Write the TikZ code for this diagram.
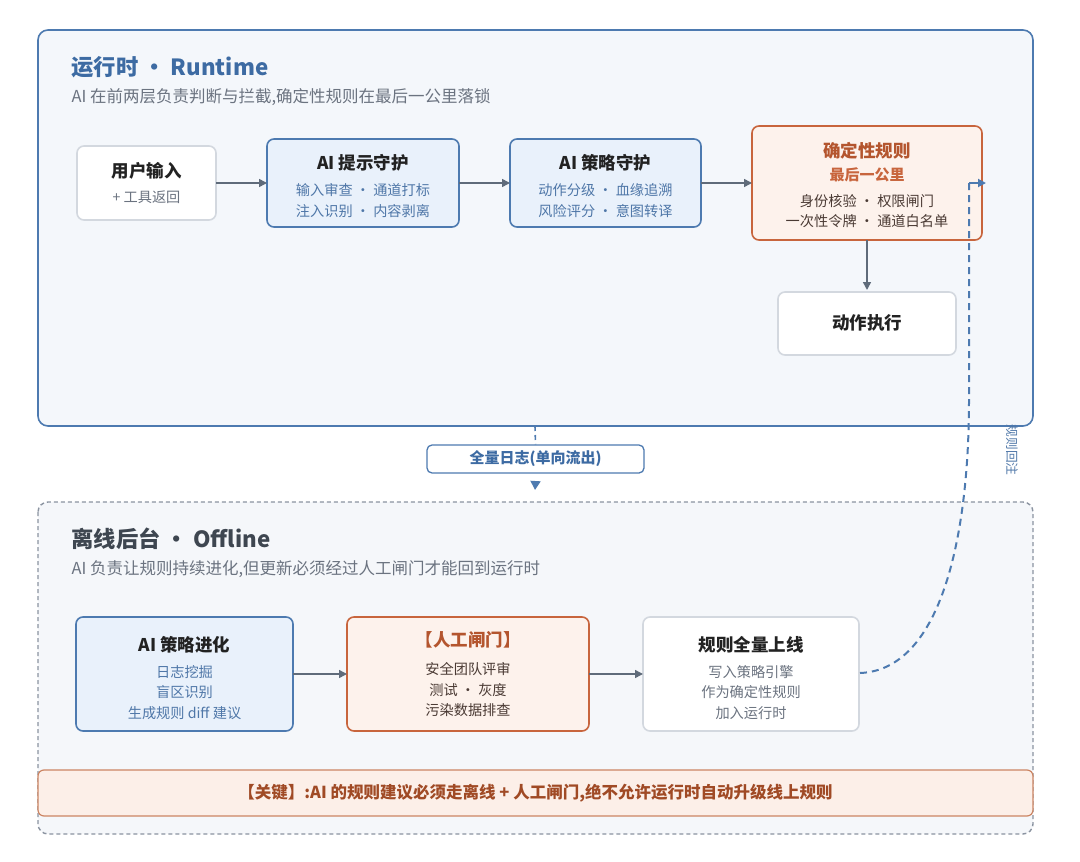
\documentclass[tikz,border=0pt]{standalone}
\usepackage{fontspec}
\setmainfont{Noto Sans CJK SC}
\usetikzlibrary{arrows.meta}
\definecolor{rtbg}{HTML}{F4F7FB}
\definecolor{offbg}{HTML}{F5F7FA}
\definecolor{bluebd}{HTML}{4D7AB0}
\definecolor{bluetitle}{HTML}{3D6BA3}
\definecolor{bluetxt}{HTML}{4F77A8}
\definecolor{bluefill}{HTML}{E9F1FB}
\definecolor{greybd}{HTML}{D3D8DF}
\definecolor{greytxt}{HTML}{6B7380}
\definecolor{darktxt}{HTML}{222222}
\definecolor{orbd}{HTML}{C8653D}
\definecolor{ortitle}{HTML}{B4552E}
\definecolor{orfill}{HTML}{FDF2EC}
\definecolor{ortxt}{HTML}{4A3A34}
\definecolor{arrowc}{HTML}{5F6B7A}
\definecolor{dashbd}{HTML}{8A93A0}
\definecolor{offtitle}{HTML}{3E4650}
\definecolor{keyfill}{HTML}{FCEFE8}
\definecolor{keybd}{HTML}{CC8563}
\definecolor{keytxt}{HTML}{A04A25}
\tikzset{
  box/.style={rounded corners=7pt, line width=1.6pt, inner sep=0pt},
  whitebox/.style={box, fill=white, draw=greybd},
  bluebox/.style={box, fill=bluefill, draw=bluebd},
  orbox/.style={box, fill=orfill, draw=orbd},
  ttl/.style={font=\fontsize{17.5}{19}\selectfont\bfseries, text=darktxt},
  bl/.style={font=\fontsize{14.2}{16}\selectfont, text=bluetxt},
  gl/.style={font=\fontsize{14.2}{16}\selectfont, text=greytxt},
  ol/.style={font=\fontsize{14.2}{16}\selectfont, text=ortxt},
  flow/.style={-{Triangle[length=8pt,width=8pt]}, line width=1.5pt, draw=arrowc},
}
\begin{document}
\begin{tikzpicture}[x=1pt,y=-1pt]
\useasboundingbox (0,0) rectangle (1080,862);
% Runtime panel
\draw[rounded corners=10pt, fill=rtbg, draw=bluebd, line width=1.6pt] (38,30) rectangle (1033,426);
\node[anchor=west, font=\fontsize{22.3}{24}\selectfont\bfseries, text=bluetitle] (rtt) at (68,67) {运行时 · Runtime};
\node[anchor=west, font=\fontsize{16.5}{18}\selectfont, text=greytxt] (rts) at (68,97) {AI 在前两层负责判断与拦截,确定性规则在最后一公里落锁};
% Offline panel
\draw[rounded corners=10pt, fill=offbg, draw=dashbd, line width=1.4pt, dash pattern=on 4pt off 3pt] (38,502) rectangle (1033,834);
\node[anchor=west, font=\fontsize{22.3}{24}\selectfont\bfseries, text=offtitle] (oft) at (68,539) {离线后台 · Offline};
\node[anchor=west, font=\fontsize{16.5}{18}\selectfont, text=greytxt] (ofs) at (68,569) {AI 负责让规则持续进化,但更新必须经过人工闸门才能回到运行时};

% Runtime nodes
\draw[whitebox] (77,146) rectangle (216,220);
\node[ttl] (ut) at (146.5,171) {用户输入};
\node[gl] (ub) at (146.5,197) {+ 工具返回};

\draw[bluebox] (267,139) rectangle (459,227);
\node[ttl] (pt) at (363,163) {AI 提示守护};
\node[bl] (p1) at (363,190) {输入审查 · 通道打标};
\node[bl] (p2) at (363,211) {注入识别 · 内容剥离};

\draw[bluebox] (510,139) rectangle (701,227);
\node[ttl] (st) at (605.5,163) {AI 策略守护};
\node[bl] (s1) at (605.5,190) {动作分级 · 血缘追溯};
\node[bl] (s2) at (605.5,211) {风险评分 · 意图转译};

\draw[orbox] (752,126) rectangle (982,240);
\node[font=\fontsize{17.5}{19}\selectfont\bfseries, text=ortitle] (dt) at (867,151) {确定性规则};
\node[font=\fontsize{15}{17}\selectfont\bfseries, text=orbd] (ds) at (867,175) {最后一公里};
\node[ol] (d1) at (867,201) {身份核验 · 权限闸门};
\node[ol] (d2) at (867,221) {一次性令牌 · 通道白名单};

\draw[whitebox] (778,292) rectangle (956,355);
\node[ttl] (et) at (867,323) {动作执行};

% anchors as coordinates
\coordinate (uR) at (216,183);
\coordinate (pL) at (267,183);
\coordinate (pR) at (459,183);
\coordinate (sL) at (510,183);
\coordinate (sR) at (701,183);
\coordinate (dL) at (752,183);
\coordinate (dB) at (867,240);
\coordinate (eT) at (867,290);
\draw[flow] (uR) -- (pL);
\draw[flow] (pR) -- (sL);
\draw[flow] (sR) -- (dL);
\draw[flow] (dB) -- (eT);

% log
\coordinate (rtB) at (535,426);
\node[draw=bluebd, fill=white, rounded corners=5pt, line width=1.3pt, minimum width=217pt, minimum height=28pt, inner sep=0pt, font=\fontsize{15}{17}\selectfont\bfseries, text=bluetitle] (log) at (535.5,459) {全量日志(单向流出)};
\coordinate (offT) at (535,490);
\draw[bluebd, line width=1.6pt, dash pattern=on 5pt off 4pt] (rtB) -- (log.north);
\draw[-{Triangle[length=9pt,width=10pt]}, bluebd, line width=1.6pt] (log.south) ++(0,8) -- (offT);

% Offline nodes
\draw[bluebox] (76,617) rectangle (293,731);
\node[ttl] (at) at (184.5,645) {AI 策略进化};
\node[bl] (a1) at (184.5,672) {日志挖掘};
\node[bl] (a2) at (184.5,692) {盲区识别};
\node[bl] (a3) at (184.5,713) {生成规则 diff 建议};

\draw[orbox] (347,617) rectangle (589,731);
\node[font=\fontsize{17.5}{19}\selectfont\bfseries, text=ortitle] (ht) at (468,640) {【人工闸门】};
\node[ol] (h1) at (468,669) {安全团队评审};
\node[ol] (h2) at (468,690) {测试 · 灰度};
\node[ol] (h3) at (468,710) {污染数据排查};

\draw[whitebox] (643,617) rectangle (859,731);
\node[ttl] (gt) at (751,645) {规则全量上线};
\node[gl] (g1) at (751,672) {写入策略引擎};
\node[gl] (g2) at (751,692) {作为确定性规则};
\node[gl] (g3) at (751,713) {加入运行时};

\coordinate (aR) at (293,674);
\coordinate (hL) at (347,674);
\coordinate (hR) at (589,674);
\coordinate (gL) at (643,674);
\coordinate (gR) at (860,673);
\draw[flow] (aR) -- (hL);
\draw[flow] (hR) -- (gL);

% feedback dashed
\coordinate (fb1) at (969,400);
\coordinate (fb2) at (969,183);
\coordinate (fbE) at (986,183);
\draw[bluebd, line width=2pt, dash pattern=on 7pt off 5pt] (gR) .. controls (940,670) and (969,540) .. (fb1) -- (fb2);
\draw[-{Triangle[length=8pt,width=8pt]}, bluebd, line width=1.8pt] (fb2) -- (fbE);
\node[rotate=-90, font=\fontsize{12.7}{14}\selectfont, text=bluetxt] (fbl) at (1012,450) {规则回注};

% key bar
\node[draw=keybd, fill=keyfill, rounded corners=6pt, line width=1.2pt, minimum width=995pt, minimum height=46pt, inner sep=0pt, font=\fontsize{16.5}{18}\selectfont\bfseries, text=keytxt] (key) at (535.5,793) {【关键】:AI 的规则建议必须走离线 + 人工闸门,绝不允许运行时自动升级线上规则};
\end{tikzpicture}
\end{document}
